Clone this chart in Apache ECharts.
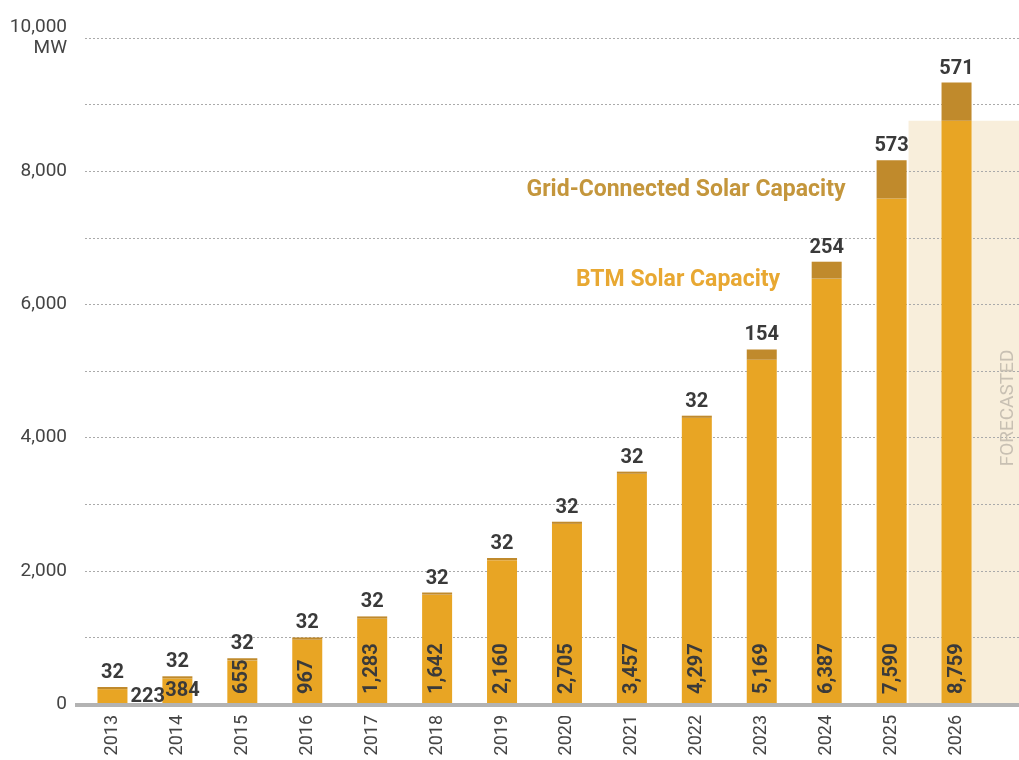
<!DOCTYPE html>
<html>
<head>
<meta charset="utf-8">
<script src="https://cdn.jsdelivr.net/npm/echarts@6/dist/echarts.min.js"></script>
<style>
html,body{margin:0;padding:0;background:#fff;}
#chart{width:1019px;height:760px;}
</style>
</head>
<body>
<div id="chart"></div>
<script>
const years = ['2013','2014','2015','2016','2017','2018','2019','2020','2021','2022','2023','2024','2025','2026'];
const btmSolar = [223, 384, 655, 967, 1283, 1642, 2160, 2705, 3457, 4297, 5169, 6387, 7590, 8759];
const gridSolar = [32, 32, 32, 32, 32, 32, 32, 32, 32, 32, 154, 254, 573, 571];
const yTicks = [0, 2000, 4000, 6000, 8000, 10000];

const BTM_COLOR = '#E8A524';
const GRID_COLOR = '#C08A2C';
const FONT = 'Roboto, "Noto Sans", sans-serif';

const chart = echarts.init(document.getElementById('chart'));

const fmt = v => v.toLocaleString('en-US');

const btmData = btmSolar.map((v, i) => {
  const item = { value: v };
  if (i === 0) item.label = { position: 'right', rotate: 0, align: 'left', verticalAlign: 'middle', distance: 3 };
  if (i === 1) item.label = { position: 'inside', rotate: 0, align: 'center', verticalAlign: 'middle', offset: [5, 0] };
  return item;
});

const option = {
  animation: false,
  grid: [
    { left: 85, right: 0, top: 38, bottom: 56 },
    { left: 80, right: 30, top: 38, bottom: 56 }
  ],
  xAxis: [
    { gridIndex: 0, type: 'value', min: 0, max: 1, show: false },
    {
      gridIndex: 1,
      type: 'category',
      data: years,
      axisLine: { show: false },
      axisTick: { show: false },
      axisLabel: { rotate: 90, fontSize: 18, color: '#444', fontFamily: FONT, margin: 11 }
    }
  ],
  yAxis: [
    {
      gridIndex: 0,
      type: 'value',
      min: 0,
      max: 10000,
      interval: 1000,
      axisLine: { show: false },
      axisTick: { show: false },
      splitLine: { show: true, lineStyle: { type: [2, 2], color: '#aaa', width: 1 } },
      axisLabel: {
        fontSize: 19,
        color: '#444',
        fontFamily: FONT,
        margin: 18,
        lineHeight: 21,
        formatter: v => {
          if (!yTicks.includes(v)) return '';
          if (v === 10000) return fmt(v) + '\nMW';
          return fmt(v);
        }
      }
    },
    { gridIndex: 1, type: 'value', min: 0, max: 10000, interval: 1000, show: false }
  ],
  series: [
    {
      name: 'BTM Solar Capacity',
      type: 'bar',
      xAxisIndex: 1,
      yAxisIndex: 1,
      stack: 'total',
      barWidth: 30,
      itemStyle: { color: BTM_COLOR },
      data: btmData,
      label: {
        show: true,
        position: 'insideBottom',
        rotate: 90,
        align: 'left',
        verticalAlign: 'middle',
        distance: 10,
        fontSize: 20,
        fontWeight: 'bold',
        color: '#3a3a3a',
        fontFamily: FONT,
        formatter: p => fmt(p.value)
      },
      z: 3
    },
    {
      name: 'Grid-Connected Solar Capacity',
      type: 'bar',
      xAxisIndex: 1,
      yAxisIndex: 1,
      stack: 'total',
      barWidth: 30,
      itemStyle: { color: GRID_COLOR },
      data: gridSolar,
      label: {
        show: true,
        position: 'top',
        distance: 4,
        fontSize: 20,
        fontWeight: 'bold',
        color: '#3a3a3a',
        fontFamily: FONT,
        formatter: p => fmt(p.value)
      },
      z: 3
    }
  ]
};

chart.setOption(option);

// decorations positioned from the axes
const last = years.length - 1;
const c2026 = chart.convertToPixel({ xAxisIndex: 1 }, years[last]);
const bandTop = chart.convertToPixel({ yAxisIndex: 1 }, btmSolar[last]);
const y0 = chart.convertToPixel({ yAxisIndex: 1 }, 0);
const W = chart.getWidth();

chart.setOption({
  graphic: [
    {
      type: 'rect', z: -10, silent: true,
      shape: { x: c2026 - 48, y: bandTop, width: W - (c2026 - 48), height: y0 - bandTop },
      style: { fill: '#F8EEDB' }
    },
    {
      type: 'line', z: 10, silent: true,
      shape: { x1: 75, y1: y0 + 1, x2: W, y2: y0 + 1 },
      style: { stroke: '#b3b3b3', lineWidth: 4 }
    },
    {
      type: 'text', z: 10, silent: true,
      x: W - 11, y: 408, rotation: Math.PI / 2,
      style: { text: 'FORECASTED', fill: '#c8c0b3', font: '19px ' + FONT, align: 'center', verticalAlign: 'middle' }
    },
    {
      type: 'text', z: 10, silent: true,
      x: 686, y: 190,
      style: { text: 'Grid-Connected Solar Capacity', fill: '#C4963C', font: 'bold 23px ' + FONT, align: 'center', verticalAlign: 'middle' }
    },
    {
      type: 'text', z: 10, silent: true,
      x: 678, y: 280,
      style: { text: 'BTM Solar Capacity', fill: '#E8A832', font: 'bold 23px ' + FONT, align: 'center', verticalAlign: 'middle' }
    }
  ]
});
</script>
</body>
</html>
